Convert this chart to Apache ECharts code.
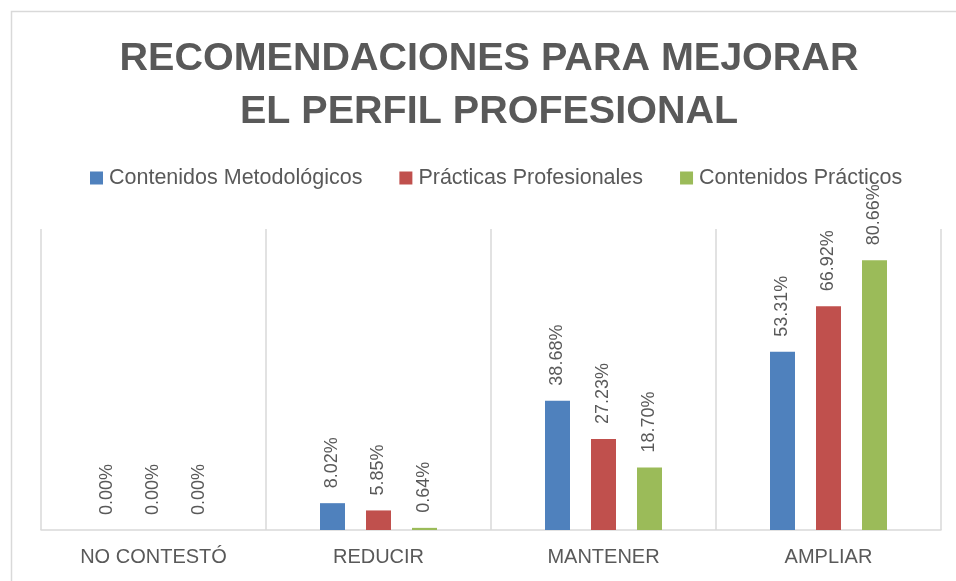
<!DOCTYPE html>
<html>
<head>
<meta charset="utf-8">
<script src="https://cdn.jsdelivr.net/npm/echarts@6/dist/echarts.min.js"></script>
<style>
html,body{margin:0;padding:0;background:#fff;}
#chart{width:956px;height:581px;}
</style>
</head>
<body>
<div id="chart"></div>
<script>
const titleText = 'RECOMENDACIONES PARA MEJORAR\nEL PERFIL PROFESIONAL';
const categories = ['NO CONTESTÓ', 'REDUCIR', 'MANTENER', 'AMPLIAR'];
const seriesNames = ['Contenidos Metodológicos', 'Prácticas Profesionales', 'Contenidos Prácticos'];
const contenidosMetodologicos = [0.00, 8.02, 38.68, 53.31];
const practicasProfesionales = [0.00, 5.85, 27.23, 66.92];
const contenidosPracticos = [0.00, 0.64, 18.70, 80.66];
const colors = ['#4f81bd', '#c0504d', '#9bbb59'];

const chart = echarts.init(document.getElementById('chart'), null, {renderer: 'canvas'});
const allData = [contenidosMetodologicos, practicasProfesionales, contenidosPracticos];
const txt = '#595959';
const fontFam = '"Liberation Sans", Arial, sans-serif';

chart.setOption({
  animation: false,
  backgroundColor: '#ffffff',
  graphic: [{
    type: 'rect',
    shape: {x: 11.5, y: 11.5, width: 1000, height: 1000},
    style: {fill: 'none', stroke: '#d9d9d9', lineWidth: 1.5},
    z: -10, silent: true
  }],
  title: {
    text: titleText,
    left: 489,
    top: 33,
    padding: 0,
    textAlign: 'center',
    textStyle: {
      fontFamily: fontFam,
      fontSize: 39.5,
      fontWeight: 'bold',
      color: txt,
      lineHeight: 53
    }
  },
  legend: {
    data: seriesNames,
    left: 90,
    top: 167,
    padding: 0,
    itemWidth: 13,
    itemHeight: 13,
    itemGap: 37,
    icon: 'rect',
    textStyle: {fontFamily: fontFam, fontSize: 21.5, color: txt, padding: [0, 0, 0, 1]}
  },
  grid: {left: 41, right: 15, top: 229, bottom: 51, containLabel: false},
  xAxis: {
    type: 'category',
    data: categories,
    axisLine: {show: true, lineStyle: {color: '#d9d9d9', width: 1.5}},
    axisTick: {show: false},
    splitLine: {show: true, lineStyle: {color: '#d9d9d9', width: 1.5}},
    axisLabel: {fontFamily: fontFam, fontSize: 20, color: txt, margin: 17}
  },
  yAxis: {
    type: 'value',
    min: 0,
    max: 90,
    interval: 10,
    show: false,
    splitLine: {show: false}
  },
  series: seriesNames.map((name, i) => ({
    name: name,
    type: 'bar',
    data: allData[i],
    barWidth: 25,
    barGap: '84%',
    itemStyle: {color: colors[i]},
    label: {
      show: true,
      position: 'top',
      rotate: 90,
      align: 'left',
      verticalAlign: 'middle',
      distance: 15,
      fontFamily: fontFam,
      fontSize: 18,
      color: txt,
      formatter: p => p.value.toFixed(2) + '%'
    }
  }))
});
</script>
</body>
</html>
